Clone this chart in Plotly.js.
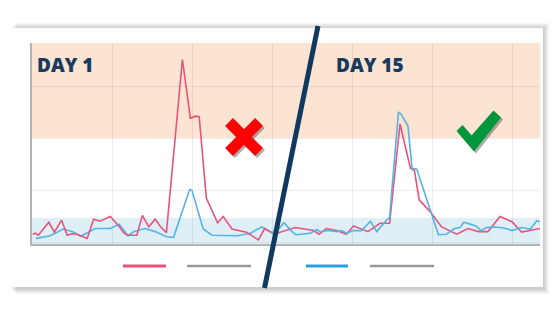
<!DOCTYPE html>
<html>
<head>
<meta charset="utf-8">
<script src="https://cdn.plot.ly/plotly-3.0.1.min.js"></script>
<style>
  html, body { margin: 0; padding: 0; background: #ffffff; }
  #chart { width: 555px; height: 315px; }
</style>
</head>
<body>
<div id="chart"></div>
<script>
// ---- Data ----
const panelLabels = ["DAY 1", "DAY 15"];

const day1PinkX = [0.1, 0.4, 0.8, 2.1, 2.8, 3.7, 4.4, 5.0, 5.6, 6.9, 7.7, 8.5, 9.8, 10.9, 11.5, 12.0, 13.1, 13.8, 14.6, 15.4, 16.1, 16.8, 18.8, 19.8, 20.4, 20.9, 21.8, 23.2, 23.9, 25.0, 26.8, 28.3, 29.1, 30.0];
const day1PinkY = [0.15, 0.17, 0.13, 0.38, 0.19, 0.42, 0.13, 0.16, 0.15, 0.07, 0.44, 0.40, 0.49, 0.30, 0.17, 0.13, 0.13, 0.51, 0.29, 0.44, 0.29, 0.18, 3.51, 2.38, 2.42, 2.41, 0.84, 0.37, 0.49, 0.25, 0.19, 0.04, 0.26, 0.17];

const day1BlueX = [0.5, 2.3, 3.9, 5.1, 6.1, 7.9, 9.8, 10.9, 12.0, 12.7, 14.1, 15.4, 16.8, 17.7, 19.7, 20.0, 21.4, 22.5, 25.7, 27.3, 28.7, 29.8];
const day1BlueY = [0.07, 0.12, 0.25, 0.20, 0.11, 0.26, 0.26, 0.34, 0.12, 0.20, 0.26, 0.20, 0.10, 0.09, 1.01, 0.99, 0.25, 0.13, 0.12, 0.17, 0.29, 0.20];

const day15PinkX = [30.0, 30.8, 32.9, 33.9, 35.2, 35.9, 36.8, 38.1, 39.3, 40.2, 41.0, 42.0, 43.5, 44.7, 46.0, 47.3, 47.8, 48.4, 49.8, 51.2, 53.1, 54.5, 55.8, 57.0, 58.5, 60.0, 61.2, 63.5];
const day15PinkY = [0.17, 0.18, 0.28, 0.26, 0.22, 0.15, 0.26, 0.22, 0.15, 0.31, 0.26, 0.20, 0.36, 0.36, 2.27, 1.42, 1.38, 0.81, 0.58, 0.29, 0.15, 0.26, 0.20, 0.20, 0.49, 0.39, 0.19, 0.26];

const day15BlueX = [29.8, 30.4, 31.5, 32.5, 33.0, 34.8, 35.6, 36.0, 37.0, 38.1, 38.7, 39.3, 40.2, 41.2, 42.3, 43.1, 44.3, 44.7, 45.8, 46.1, 47.0, 47.5, 48.1, 50.8, 51.8, 52.8, 53.5, 54.0, 55.5, 56.1, 56.8, 57.9, 59.0, 60.0, 61.2, 62.3, 63.1, 63.5];
const day15BlueY = [0.20, 0.17, 0.37, 0.20, 0.14, 0.17, 0.24, 0.20, 0.22, 0.20, 0.22, 0.17, 0.22, 0.22, 0.40, 0.20, 0.42, 0.47, 2.49, 2.47, 2.23, 1.42, 1.40, 0.14, 0.15, 0.26, 0.28, 0.38, 0.31, 0.22, 0.28, 0.29, 0.27, 0.22, 0.28, 0.25, 0.41, 0.39];

// Reference bands (value ranges)
const highBand = [2.0, 3.83];
const normalBand = [-0.04, 0.46];

// ---- Styling / layout helpers ----
const W = 555, H = 315;
const M = { l: 32, r: 15, t: 43, b: 71 };
const PW = W - M.l - M.r, PH = H - M.t - M.b;
const px = x => (x - M.l) / PW;
const py = y => (H - M.b - y) / PH;
function pathFrom(pts) {
  return 'M ' + pts.map(p => px(p[0]).toFixed(5) + ',' + py(p[1]).toFixed(5)).join(' L ') + ' Z';
}
function shifted(pts, dx, dy) { return pts.map(p => [p[0] + dx, p[1] + dy]); }
function armRect(ax, ay, bx, by, half) {
  const dx = bx - ax, dy = by - ay, len = Math.hypot(dx, dy);
  const nx = -dy / len * half, ny = dx / len * half;
  return [[ax + nx, ay + ny], [bx + nx, by + ny], [bx - nx, by - ny], [ax - nx, ay - ny]];
}

const PINK = '#e8537c', BLUE = '#55b3e6', NAVY = '#0f395e';

const traces = [
  { x: day1BlueX, y: day1BlueY, mode: 'lines', line: { color: BLUE, width: 1.6 }, hoverinfo: 'skip' },
  { x: day1PinkX, y: day1PinkY, mode: 'lines', line: { color: PINK, width: 1.6 }, hoverinfo: 'skip' },
  { x: day15PinkX, y: day15PinkY, mode: 'lines', line: { color: PINK, width: 1.6 }, hoverinfo: 'skip' },
  { x: day15BlueX, y: day15BlueY, mode: 'lines', line: { color: BLUE, width: 1.6 }, hoverinfo: 'skip' }
];

const shapes = [];
// card shadow (top, bottom, right; faded on the left)
for (let i = 6; i >= 1; i--) {
  shapes.push({ type: 'rect', xref: 'paper', yref: 'paper', layer: 'below',
    x0: px(10 + i), x1: px(543 + i), y0: py(287 + i + 1), y1: py(28 - i + 1),
    fillcolor: 'rgba(0,0,0,0.035)', line: { width: 0 } });
}
// card
shapes.push({ type: 'rect', xref: 'paper', yref: 'paper', layer: 'below',
  x0: px(0), x1: px(543), y0: py(287), y1: py(28), fillcolor: '#ffffff', line: { width: 0 } });
// bands
shapes.push({ type: 'rect', xref: 'x domain', yref: 'y', layer: 'below',
  x0: 0, x1: 1, y0: highBand[0], y1: highBand[1], fillcolor: '#fce4d3', line: { width: 0 } });
shapes.push({ type: 'rect', xref: 'x domain', yref: 'y', layer: 'below',
  x0: 0, x1: 1, y0: normalBand[0], y1: normalBand[1], fillcolor: '#def0f6', line: { width: 0 } });
// legend swatches
const legendSw = [[123, 166, PINK, 3], [187, 251, '#9a9a9a', 2.5], [306, 348, '#2d9ddb', 3], [370, 434, '#9a9a9a', 2.5]];
legendSw.forEach(s => shapes.push({ type: 'line', xref: 'paper', yref: 'paper', layer: 'above',
  x0: px(s[0]), x1: px(s[1]), y0: py(266), y1: py(266), line: { color: s[2], width: s[3] } }));
// red cross
const arm1 = armRect(229, 122, 259, 152, 5.5), arm2 = armRect(259, 122, 229, 152, 5.5);
[arm1, arm2].forEach(a => shapes.push({ type: 'path', xref: 'paper', yref: 'paper', layer: 'above',
  path: pathFrom(shifted(a, 2, 2)), fillcolor: 'rgba(70,70,70,0.45)', line: { width: 0 } }));
[arm1, arm2].forEach(a => shapes.push({ type: 'path', xref: 'paper', yref: 'paper', layer: 'above',
  path: pathFrom(a), fillcolor: '#ff0000', line: { width: 0 } }));
// green check
const check = [[456.5, 131], [462.5, 125], [471.5, 135.5], [493.5, 110.5], [501, 117.5], [474, 151.5]];
shapes.push({ type: 'path', xref: 'paper', yref: 'paper', layer: 'above',
  path: pathFrom(shifted(check, 2, 2)), fillcolor: 'rgba(70,70,70,0.45)', line: { width: 0 } });
shapes.push({ type: 'path', xref: 'paper', yref: 'paper', layer: 'above',
  path: pathFrom(check), fillcolor: '#00963c', line: { width: 0 } });
// divider
shapes.push({ type: 'line', xref: 'paper', yref: 'paper', layer: 'above',
  x0: px(318), y0: py(26), x1: px(264.5), y1: py(288), line: { color: NAVY, width: 5 } });

const annotations = [
  { text: panelLabels[0], x: px(35), xanchor: 'left', y: py(65), yanchor: 'middle' },
  { text: panelLabels[1], x: px(334), xanchor: 'left', y: py(65), yanchor: 'middle' }
].map(a => Object.assign({ xref: 'paper', yref: 'paper', showarrow: false,
  font: { family: 'Open Sans, sans-serif', size: 19, weight: 800, color: '#173a5e' } }, a));

const layout = {
  width: W, height: H,
  margin: M,
  paper_bgcolor: '#ffffff',
  plot_bgcolor: 'rgba(0,0,0,0)',
  showlegend: false,
  xaxis: { range: [0, 63.5], dtick: 10, tick0: 0, showgrid: true, gridcolor: 'rgba(0,0,0,0.07)', gridwidth: 1,
    zeroline: false, showline: true, linecolor: '#b4b4b4', linewidth: 2, showticklabels: false, ticks: '' },
  yaxis: { range: [-0.038, 3.827], dtick: 1, tick0: 0, showgrid: true, gridcolor: 'rgba(0,0,0,0.07)', gridwidth: 1,
    zeroline: false, showline: true, linecolor: '#b4b4b4', linewidth: 2, showticklabels: false, ticks: '' },
  shapes: shapes,
  annotations: annotations
};

Plotly.newPlot('chart', traces, layout, { staticPlot: true, displayModeBar: false });
</script>
</body>
</html>
